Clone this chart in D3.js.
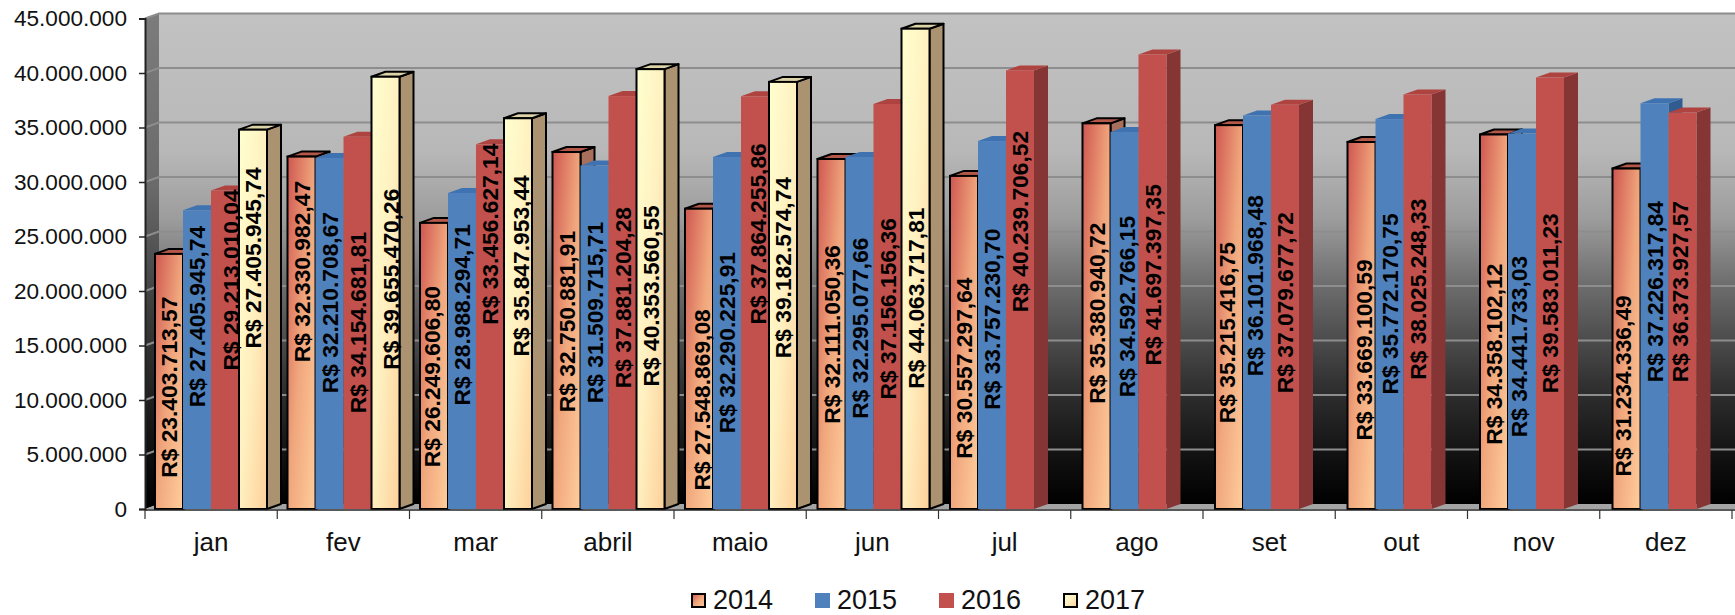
<!DOCTYPE html>
<html><head><meta charset="utf-8">
<script src="https://cdn.jsdelivr.net/npm/d3@7"></script>
<style>html,body{margin:0;padding:0;background:#fff;overflow:hidden}svg{display:block}text{font-family:"Liberation Sans",Arial,sans-serif}</style>
</head><body><svg id="c" width="1735" height="615"></svg>
<script>
const categories=["jan","fev","mar","abril","maio","jun","jul","ago","set","out","nov","dez"];
const years=["2014","2015","2016","2017"];
const yTicks=[0,5e6,10e6,15e6,20e6,25e6,30e6,35e6,40e6,45e6];
const values2014=[23403713.57,32330982.47,26249606.80,32750881.91,27548869.08,32111050.36,30557297.64,35380940.72,35215416.75,33669100.59,34358102.12,31234336.49];
const values2015=[27405945.74,32210708.67,28988294.71,31509715.71,32290225.91,32295077.66,33757230.70,34592766.15,36101968.48,35772170.75,34441733.03,37226317.84];
const values2016=[29213010.04,34154681.81,33456627.14,37881204.28,37864255.86,37156156.36,40239706.52,41697397.35,37079677.72,38025248.33,39583011.23,36373927.57];
const values2017=[34800000,39655470.26,35847953.44,40353560.55,39182574.74,44063717.81,null,null,null,null,null,null];
// The first 2017 label in the source reads differently from its bar height
const printed2017=[27405945.74,39655470.26,35847953.44,40353560.55,39182574.74,44063717.81,null,null,null,null,null,null];
// Axis value at which each rotated label begins
const labelFrom2014=[2.86e6,13.47e6,3.83e6,8.88e6,1.70e6,7.82e6,4.61e6,9.65e6,7.87e6,6.28e6,5.89e6,2.98e6];
const labelFrom2015=[9.34e6,10.62e6,9.5e6,9.71e6,6.95e6,8.28e6,9.1e6,10.26e6,12.18e6,10.5e6,6.59e6,11.63e6];
const labelFrom2016=[12.7e6,8.79e6,16.9e6,11.08e6,16.93e6,10.05e6,18.06e6,13.17e6,10.62e6,11.85e6,10.62e6,11.63e6];
const labelFrom2017=[14.72e6,12.77e6,13.99e6,11.24e6,13.83e6,11.03e6,null,null,null,null,null,null];

const seriesValues=[values2014,values2015,values2016,values2017];
const seriesPrinted=[values2014,values2015,values2016,printed2017];
const seriesFrom=[labelFrom2014,labelFrom2015,labelFrom2016,labelFrom2017];

const W=1735,depthX=14,depthY=5;
const svg=d3.select("#c");
const y=d3.scaleLinear().domain([0,45e6]).range([509,18.5]);
const xAxisScale=d3.scaleBand().domain(categories).range([145,1732]);
const xBars=d3.scaleBand().domain(categories).range([155,155+132.5*12]);
const xSeries=d3.scaleBand().domain(years).range([0,112]);
const bw=xSeries.bandwidth();
const br=d3.formatLocale({decimal:",",thousands:".",grouping:[3],currency:["R$ ",""]});
const money=br.format("$,.2f"), axisNum=br.format(",.0f");

const defs=svg.append("defs");
function grad(id,stops,x2,y2){
  const g=defs.append("linearGradient").attr("id",id).attr("x1",0).attr("y1",0).attr("x2",x2).attr("y2",y2);
  stops.forEach(s=>g.append("stop").attr("offset",s[0]).attr("stop-color",s[1]));
}
grad("back",[[0,"#c2c2c2"],[.28,"#b8b8b8"],[.42,"#9c9c9c"],[.55,"#6e6e6e"],[.75,"#333"],[.9,"#121212"],[1,"#000"]],0,1);
grad("side",[[0,"#7c7c7c"],[.35,"#6a6a6a"],[.6,"#3c3c3c"],[.85,"#141414"],[1,"#000"]],0,1);
grad("g2014",[[0,"#cf5650"],[.5,"#f0a67c"],[1,"#ffcd9b"]],1,1);
grad("g2017",[[0,"#ffffcf"],[.5,"#fff0c0"],[1,"#fdd09a"]],1,1);

const top0=y(45e6), bot=y(0);
// walls
svg.append("polygon").attr("fill","url(#side)")
  .attr("points",[[145,top0],[145+depthX,top0-depthY],[145+depthX,bot-depthY],[145,bot]].join(" "));
svg.append("rect").attr("x",145+depthX).attr("y",top0-depthY).attr("width",W-145-depthX).attr("height",bot-top0).attr("fill","url(#back)");
svg.append("polygon").attr("fill","#a4a4a4")
  .attr("points",[[145,bot],[145+depthX,bot-depthY],[W,bot-depthY],[W,bot]].join(" "));
// gridlines on walls
yTicks.forEach(t=>{
  const yy=y(t);
  svg.append("path").attr("fill","none").attr("stroke","#8d8d8d").attr("stroke-width",t===0?0:2)
    .attr("d",d3.line()([[145,yy],[145+depthX,yy-depthY],[W,yy-depthY]]));
});

// bars
const styles=[
  {front:"url(#g2014)",side:"#a8705a",top:"#b4594a",stroke:"#000"},
  {front:"#4f81bd",side:"#305c92",top:"#3f72b0",stroke:"none"},
  {front:"#c2514d",side:"#843534",top:"#ae4340",stroke:"none"},
  {front:"url(#g2017)",side:"#ab9270",top:"#ddd3a8",stroke:"#000"}
];
const barsG=svg.append("g");
categories.forEach((c,ci)=>{
  years.forEach((yr,si)=>{
    const v=seriesValues[si][ci]; if(v==null) return;
    const st=styles[si], x0=xBars(c)+xSeries(yr), x1=x0+bw, t=y(v), b=y(0);
    const sw=st.stroke==="none"?0:2;
    barsG.append("polygon").attr("fill",st.side).attr("stroke",st.stroke).attr("stroke-width",sw).attr("stroke-linejoin","round")
      .attr("points",[[x1,t],[x1+depthX,t-depthY],[x1+depthX,b-depthY],[x1,b]].join(" "));
    barsG.append("polygon").attr("fill",st.top).attr("stroke",st.stroke).attr("stroke-width",sw).attr("stroke-linejoin","round")
      .attr("points",[[x0,t],[x0+depthX,t-depthY],[x1+depthX,t-depthY],[x1,t]].join(" "));
    barsG.append("rect").attr("x",x0).attr("y",t).attr("width",bw).attr("height",b-t).attr("fill",st.front).attr("stroke",st.stroke).attr("stroke-width",sw);
  });
});

// axes
const yAxis=d3.axisLeft(y).tickValues(yTicks).tickSize(6).tickPadding(12).tickFormat(d=>d===0?"0":axisNum(d));
const gy=svg.append("g").attr("transform","translate(145,0)").call(yAxis);
gy.selectAll("text").attr("font-size",22.6).attr("fill","#111").attr("font-family",null);
gy.selectAll("line").attr("stroke","#222").attr("stroke-width",1.5);
gy.select(".domain").attr("stroke","#222").attr("stroke-width",2);

const xAxis=d3.axisBottom(xAxisScale).tickSize(0).tickPadding(23);
const gx=svg.append("g").attr("transform",`translate(0,${y(0)+1})`).call(xAxis);
gx.selectAll("text").attr("font-size",26).attr("fill","#111").attr("font-family",null);
gx.select(".domain").remove();
gx.append("line").attr("x1",145).attr("x2",W).attr("stroke","#222").attr("stroke-width",1.5);
categories.concat(["end"]).forEach((c,i)=>{
  const tx=i<12?xAxisScale(c):xAxisScale.range()[1];
  gx.append("line").attr("x1",tx).attr("x2",tx).attr("y1",0).attr("y2",9).attr("stroke","#333").attr("stroke-width",1.2);
});

// data labels
const nudge={"2-0":6,"3-1":5,"3-2":3,"0-2":-2,"0-4":2.7,"2-4":2.7,"1-7":2,"0-8":-2,"1-8":-2,"0-9":2.5,"1-10":-3,"0-11":-3.5,"2-11":-2.5};
const labelsG=svg.append("g");
categories.forEach((c,ci)=>{
  years.forEach((yr,si)=>{
    const v=seriesPrinted[si][ci]; if(v==null) return;
    const cx=xBars(c)+xSeries(yr)+bw/2+(nudge[si+"-"+ci]||0)+8, yy=y(seriesFrom[si][ci]);
    labelsG.append("text").attr("transform",`translate(${cx},${yy}) rotate(-90)`)
      .attr("font-size",22.8).attr("font-weight",700).attr("fill","#000").text(money(v));
  });
});

// legend
const legendX=d3.scalePoint().domain(years).range([691,1063]);
years.forEach((yr,si)=>{
  const lx=legendX(yr), st=styles[si], sw=st.stroke==="none"?0:2;
  const ins=sw?1:0;
  svg.append("rect").attr("x",lx+ins).attr("y",593+ins).attr("width",15-2*ins).attr("height",15-2*ins)
    .attr("fill",st.front).attr("stroke",st.stroke).attr("stroke-width",sw);
  svg.append("text").attr("x",lx+22).attr("y",609).attr("font-size",27).attr("fill","#111").text(yr);
});
</script></body></html>
